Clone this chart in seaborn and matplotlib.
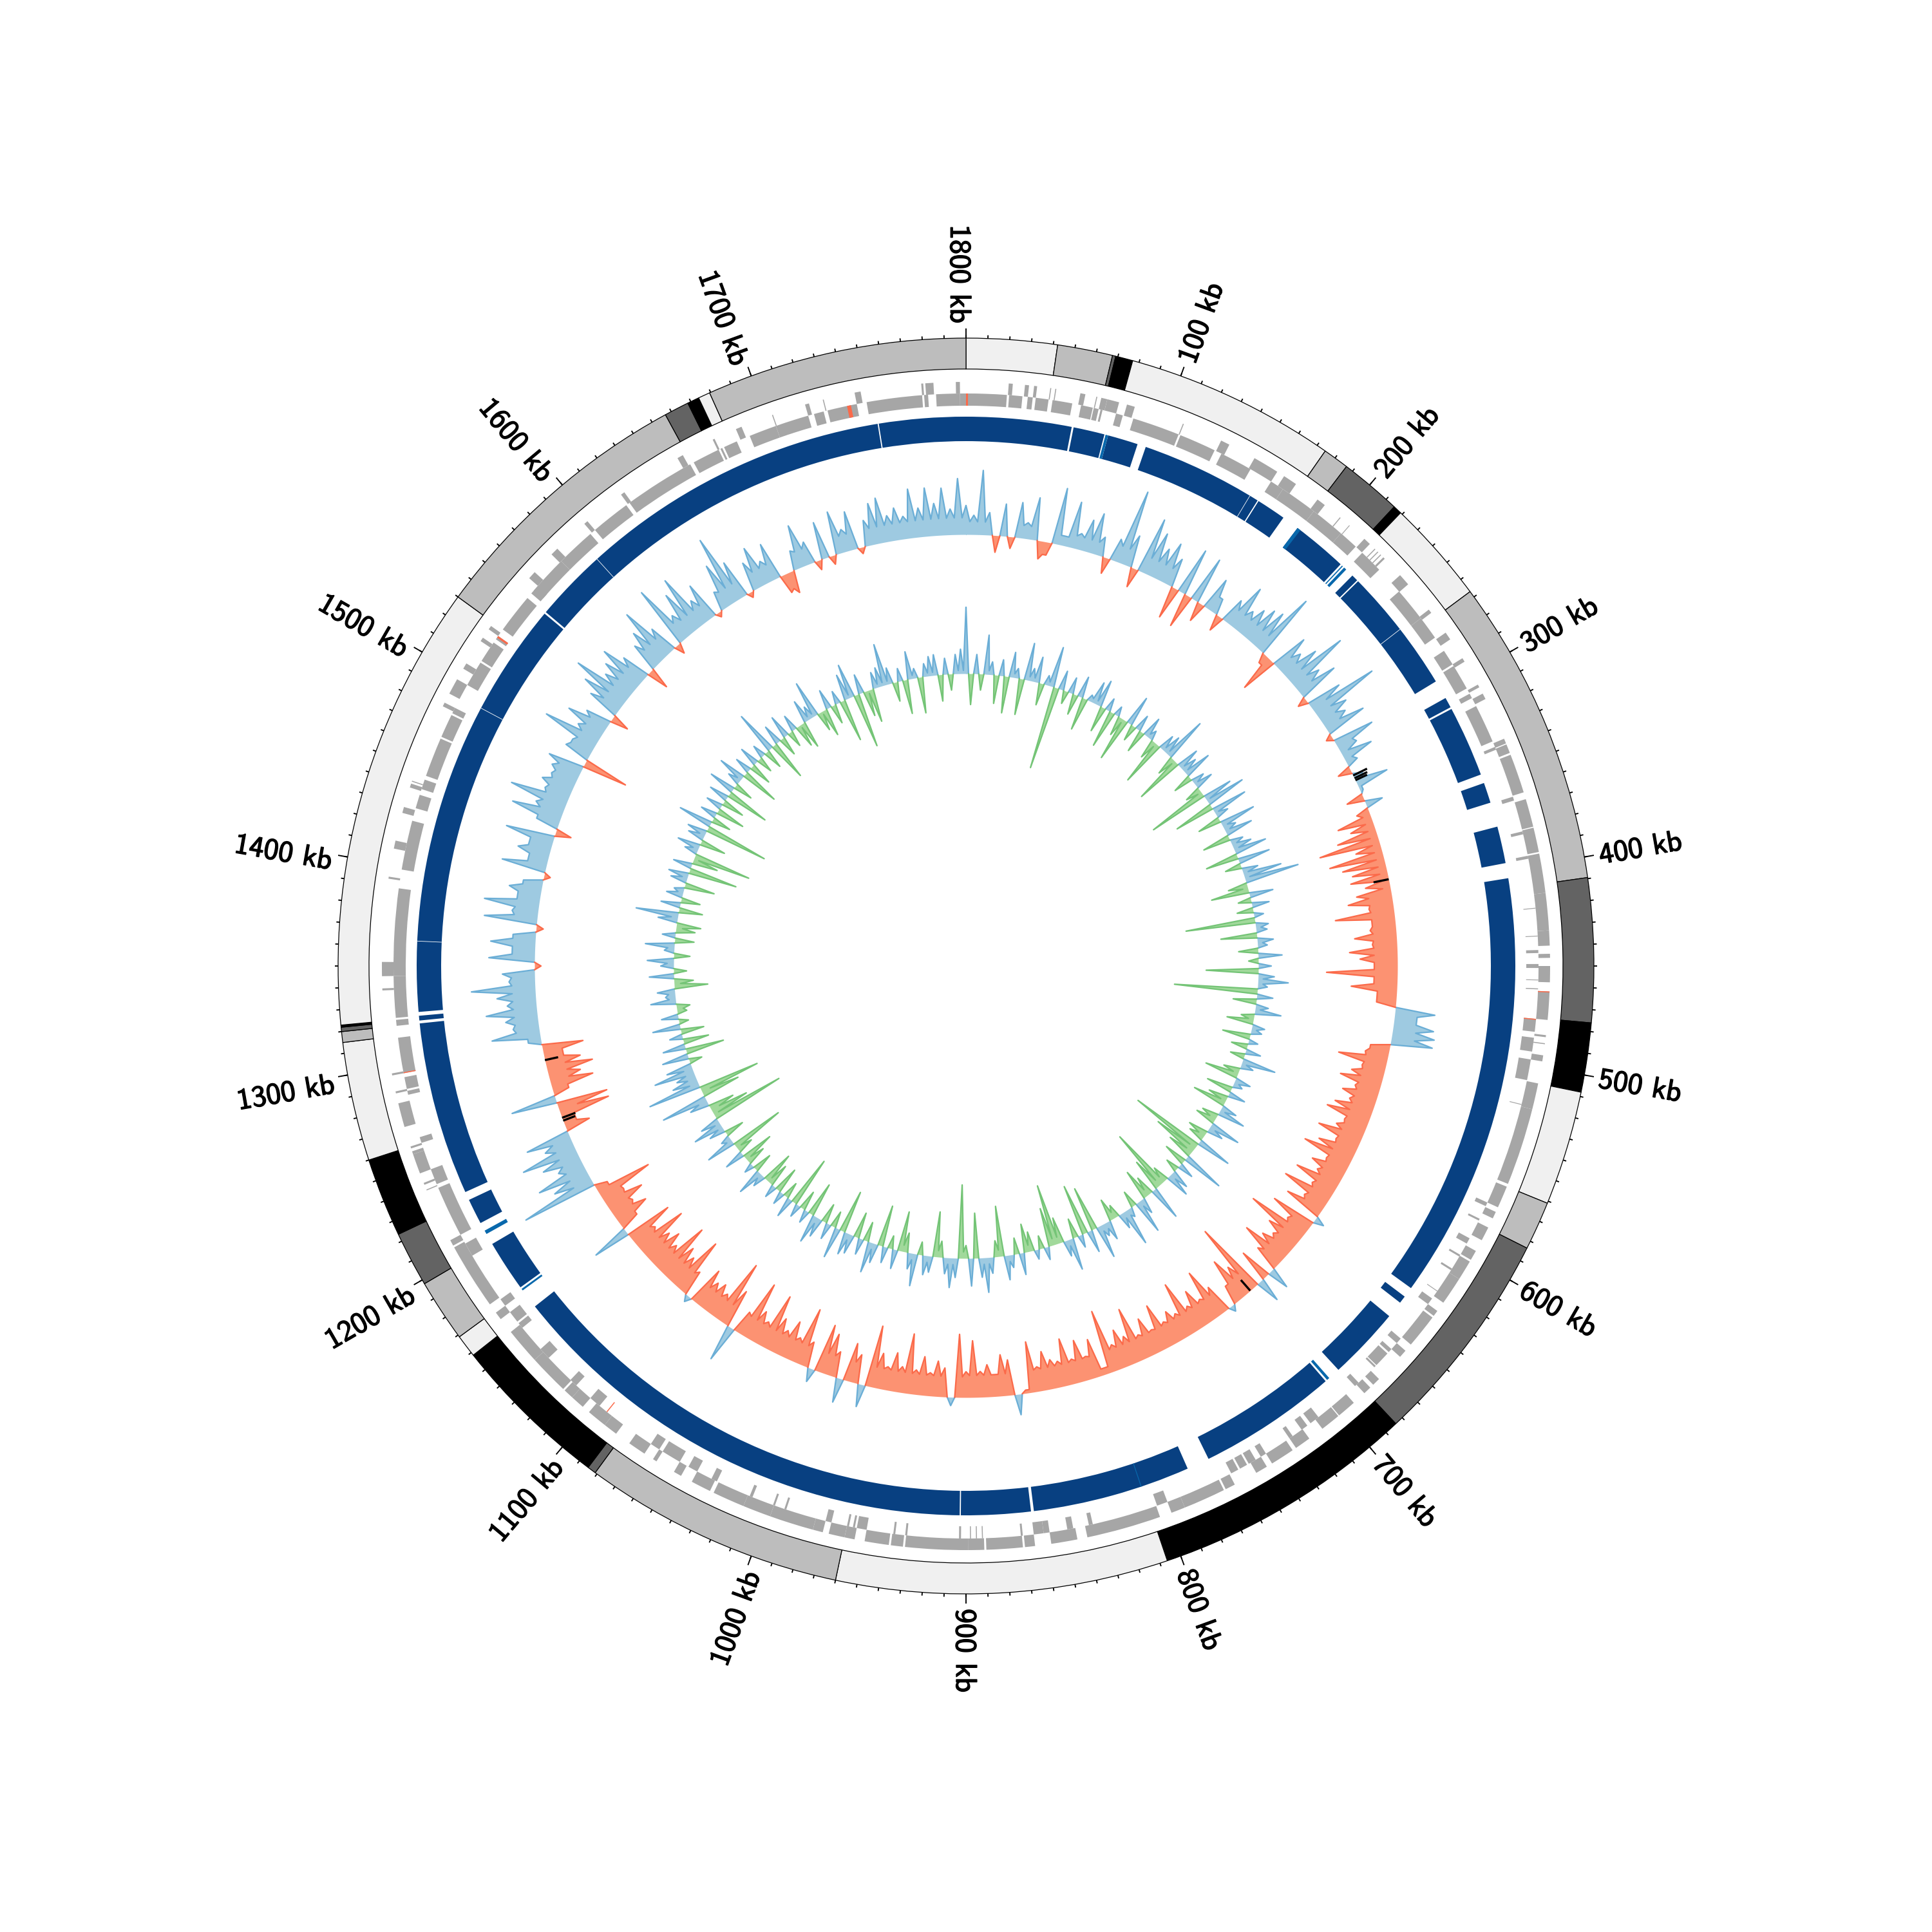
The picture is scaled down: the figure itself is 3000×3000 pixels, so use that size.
import numpy as np
import pandas as pd
import matplotlib
matplotlib.use("Agg")
import matplotlib.pyplot as plt
import matplotlib.patheffects as pe
import seaborn as sns

GENOME_KB = 1800
SAMPLE_KB = 5

BAND_ENDS = [42, 67.5, 69, 77, 174.5, 186.5, 215, 219, 267, 409.5, 476, 508, 561, 583.5, 684, 806.5,
             960, 1081, 1085, 1158.5, 1169, 1198, 1223.5, 1260, 1315, 1320, 1322, 1323, 1530, 1657,
             1668.5, 1674, 1679.5, 1800]
BAND_SHADES = ["#f0f0f0", "#bdbdbd", "#636363", "#000000", "#f0f0f0", "#bdbdbd", "#636363", "#000000", "#f0f0f0",
               "#bdbdbd", "#636363", "#000000", "#f0f0f0", "#bdbdbd", "#636363", "#000000", "#f0f0f0", "#bdbdbd",
               "#636363", "#000000", "#f0f0f0", "#bdbdbd", "#636363", "#000000", "#f0f0f0", "#bdbdbd", "#636363",
               "#000000", "#f0f0f0", "#bdbdbd", "#636363", "#000000", "#f0f0f0", "#bdbdbd"]

GENES_OUTER = [(21,23),(29,31),(33.5,35),(41.5,42),(44,44.5),(56.5,59),(64.5,65),(67,70),(70,76),(80,84),(109,109.5),
    (129.5,130.3),(130,134),(148,161),(165,172),(185,189.5),(199,199.5),(205,205.4),(215,218.7),(222,222.5),(224,224.5),
    (226,226.5),(228,229),(240,246),(262,264),(276,280),(291,293),(306,307.5),(311,314),(335.5,338),(338.5,343),(344,363.5),
    (367,381),(381.5,393.7),(394.5,414),(414,432.5),(432.5,440),(444,446),(450,458),(462.5,476.5),(484,485),(488,488.5),
    (494,497),(508,521),(521,559.5),(561,572),(574.5,578),(583,590),(596,601),(602,612),(612,626),(631,634),(635,652),
    (656,660),(675,679),(681,685),(692,701.5),(702,712),(720,728),(730,742),(745,751),(763,768),(769,790),(790,797),
    (803,840),(845,858),(866,871),(872,890),(891,899),(899,930),(931,937),(938,950),(955,960),(960,968),(971,976),(976,998),
    (998,1012),(1012,1028),(1030,1040),(1046,1050),(1060,1062),(1067,1076),(1084,1091),(1091,1101),(1105,1112),(1112,1117),
    (1118,1138),(1138,1156),(1164,1168),(1173,1206),(1207,1210),(1237,1237.5),(1240,1241),(1246,1256),(1256,1257.5),
    (1259,1260),(1270,1282),(1287,1288),(1296,1297),(1338,1339),(1345,1352),(1393,1394),(1408,1412),(1426,1429),(1439,1441),
    (1442,1442.5),(1482,1484),(1489,1497),(1503,1506),(1519,1521),(1526,1528),(1558,1562),(1574,1578),(1596,1598),
    (1619,1621),(1652,1655),(1671.5,1672.5),(1684,1687),(1703,1703.5),(1720,1722),(1729,1729.5),(1745,1748),(1778,1779),
    (1780,1784),(1795,1797)]
GENES_INNER = [(0,20.5),(21.6,28.3),(31,33.5),(35,41.5),(43.5,53.5),(58,64),(64.5,67),(68,69),(76,79.5),(85,109),(110,128.7),
    (132.5,149),(161,168),(168,187),(187,204.5),(204.5,214.5),(219,231),(245.7,263),(263,275),(283,291),(292,305),(308,310.5),
    (315,334.5),(337.5,339),(364,366),(382,383.5),(394.5,396),(420.8,421.2),(434.8,435.2),(442,443.5),(449,451),(456.8,457.2),
    (461.2,461.7),(476.5,483),(486,493),(497,507.5),(519.8,520.2),(572,574),(581,582),(592,595),(601.5,602.5),(609.5,610.5),
    (622.8,623.2),(627.5,631),(653,656),(660,662),(663,671),(671.5,672.5),(683.5,686),(710,715),(717,720.5),(726,728),
    (742,745),(748,752),(753,757),(758,762),(797,802.5),(836,838),(846,849),(858,861),(861,866),(871.5,872.5),(891.5,892),
    (894.5,895),(897.5,898),(902.5,903.5),(929.5,930.5),(935.5,936.5),(950,955),(956,957),(959,960),(968,971),(991.5,992.5),
    (997.5,998.5),(1009.5,1011),(1029,1032),(1040,1045),(1050,1060),(1062,1067),(1099,1105),(1114.5,1118.5),(1134,1140),
    (1154,1157),(1158,1164),(1168,1172),(1198,1205),(1210,1236),(1238,1246),(1260,1263),(1285,1287),(1288,1294),(1296,1314),
    (1320,1323),(1324,1345),(1345,1389),(1398.5,1423.5),(1430,1437),(1440,1445),(1447,1467),(1468,1480),(1481,1484),
    (1497,1510),(1511,1522),(1524,1526),(1530,1550),(1553,1558),(1555,1575),(1575,1595),(1598,1618),(1620,1656),(1658,1672),
    (1673,1674),(1675,1682),(1689,1703),(1703,1720),(1723,1728),(1730,1745),(1750,1778),(1779,1781),(1785,1797),(1797,1800)]
GENES_RED_OUTER = [(462.5,463)]
GENES_RED_INNER = [(0,1),(476.5,477),(1296,1296.5),(1525,1526),(1094,1094.5),(1740,1742)]

BLOCKS = [(0,55.5),(56.5,73),(75,91),(95.5,160.3),(160.9,176.5),(185.6,215),(223.5,227),(227.7,294),(304,309.5),(310.5,348),
    (352.7,363.5),(376.5,396),(404,629.5),(635,639),(648,686.6),(695.5,769),(781,864.5),(866,902.7),(903.3,1158.5),
    (1171,1198),(1210.5,1224),(1228.5,1320),(1321.5,1324),(1326,1549.5),(1550.5,1753.7),(1754.3,1800)]
BLOCKS_LIGHT = [(73.6,75),(185.6,187.5),(216,216.6),(217.5,219),(693,694.5),(1169,1170),(1204,1206)]
BLOCK_NICKS_WHITE = [155.6, 261, 1363, 1490, 1589]
BLOCK_NICKS_LIGHT = [807]

# signed peak per 5 kb sample
SKEW = [45,30,100,35,-26,50,-18,55,25,66,-28,-20,88,15,72,25,50,64,30,-25,
    35,118,50,-30,88,70,50,65,45,-50,74,-53,73,-30,52,25,-25,40,72,38,
    50,60,65,104,-15,-58,59,40,60,100,45,65,-15,55,109,50,40,65,-10,65,
    30,49,18,-21,15,51,5,-27,27,-20,-55,-38,-63,-95,-40,-85,-67,-54,-59,-38,
    -54,-69,-38,-92,-36,-40,-65,-38,-74,-58,-36,-110,-36,-71,-30,-30,62,35,63,66,
    65,-30,-36,-76,-36,-50,-65,-38,-55,-40,-60,-69,-36,-45,-70,-36,-60,-79,-36,-55,
    -40,-70,-36,-78,-36,-60,16,-70,-36,-96,-55,-38,-50,-74,-40,34,-50,38,-115,-50,
    -70,-30,10,-45,-80,-38,-60,-40,-86,-40,-50,-38,-72,-36,-60,-38,-86,-45,-60,-40,
    -99,-10,-60,-36,-65,-38,-73,-40,-45,-60,-38,-79,-5,32,-55,-64,-34,-50,-40,-88,
    -40,-98,13,-45,-55,-36,-60,-38,-93,-40,-60,-36,-55,-96,35,-45,-60,38,-40,-65,
    -76,21,-40,-90,-38,-60,-40,-55,-88,-38,-50,-92,-36,57,-60,-102,-40,-50,-45,-60,
    10,-40,-89,-50,-60,-90,-45,-60,-50,-84,-40,-74,59,-30,-55,-38,-62,-36,-88,-20,
    119,60,80,40,60,88,45,70,-39,-20,-79,-80,71,-25,-67,-50,-72,-55,-30,-64,
    20,75,40,50,79,45,60,99,40,50,-10,71,35,69,35,-11,82,40,85,35,
    50,30,-10,69,30,50,35,76,-25,35,79,45,91,40,50,40,45,56,-71,40,
    35,90,40,65,40,-28,50,70,94,50,60,74,45,-34,45,60,88,45,-16,98,
    40,70,89,40,59,-8,30,70,109,60,-9,45,64,35,58,-30,-35,30,67,35,
    -15,58,-14,67,35,60,-10,40,64,70,40,50,35,76,45,75,50,73,40,87]
# valley level between peaks, one reading per 100 kb sector
SKEW_FLOOR = [20,26,26,12,36,34,32,34,34,32,32,34,30,36,36,30,26,26]

GC = [103,-48,30,-25,61,20,-44,25,-57,39,15,-56,58,20,40,-34,15,63,-130,30,
    -20,25,-32,33,-51,10,35,42,-40,20,-58,15,-30,-68,47,-25,25,-35,32,15,
    -30,-71,25,30,69,-30,-75,35,25,44,-30,20,29,-25,-94,46,63,-63,56,20,
    -36,56,20,43,-43,20,30,51,-51,50,-25,25,60,85,-30,-59,37,-20,27,-25,
    15,-108,20,17,-56,25,15,-30,37,-15,20,-81,25,47,15,-129,25,-36,20,41,
    -20,-41,20,17,-43,15,-25,24,-22,53,20,-25,-52,25,15,-40,27,-30,-52,25,
    43,-25,-31,49,25,-30,-24,55,-115,-70,-40,66,-35,25,-20,30,38,-25,-97,-50,
    53,-30,-47,25,53,-25,15,58,25,-20,-34,30,20,52,-69,35,-79,20,-30,50,
    25,-40,-95,-60,20,-20,15,-30,-44,34,-25,20,38,-78,-25,25,54,30,-70,43,
    -20,-114,30,46,25,-25,-70,25,30,-20,50,25,-30,-62,30,-20,25,-64,30,48,
    -30,25,-40,30,35,-66,48,-25,25,-30,30,44,-53,20,-30,20,-79,31,-25,20,
    -40,20,-35,-50,20,41,-30,15,-30,-50,31,-25,-84,46,15,-30,25,47,30,-115,
    -60,-40,30,73,-60,-96,83,40,30,63,40,-20,41,-60,35,-40,20,-36,43,-15,
    26,-15,-21,39,15,27,-52,-30,38,-20,20,41,-25,15,45,-30,20,-30,-38,30,
    66,-37,30,-30,25,15,-47,25,31,-76,29,-40,-90,20,35,-40,25,30,-99,53,
    -30,25,-45,25,-35,30,-68,41,-30,20,42,-59,25,-35,30,-25,20,-30,67,-62,
    30,-30,35,-25,25,-35,-42,35,20,57,-30,-43,30,-30,20,-66,40,53,-85,30,
    -40,-52,25,30,65,25,-30,20,-53,43,15,-56,20,30,32,-41,25,-25,30,38]
GC_FLOOR = [6,6,6,8,8,8,10,10,10,10,10,8,14,10,8,6,5,5]

BLACK_KB = [319, 321, 322.5, 392, 694, 1245, 1247, 1287]
BLACK_VALUE = [24, 22, 20, -24, -22, -20, -22, -21]

TICK_KB = list(range(100, 1900, 100))
TICK_LABELS = [f"{k} kb" for k in TICK_KB]

assert len(SKEW) == 360 and len(GC) == 360

sns.set_style("white")
plt.rcParams["font.family"] = ["cmss10", "DejaVu Sans"]
plt.rcParams["axes.unicode_minus"] = False

BLUE_FILL, BLUE_LINE = "#9ecae1", "#6baed6"
RED_FILL, RED_LINE = "#fc9272", "#fb6a4a"
GREEN_FILL, GREEN_LINE = "#a1d99b", "#74c476"
NAVY, NAVY_LIGHT = "#084081", "#0868ac"
GENE = "#a6a6a6"

fig = plt.figure(figsize=(10, 10), dpi=300)
ax = fig.add_axes([0, 0, 1, 1], projection="polar")
ax.set_theta_zero_location("N")
ax.set_theta_direction(-1)


def th(kb):
    return np.deg2rad(np.asarray(kb, dtype=float) * 360.0 / GENOME_KB)


def arcs(pairs, r0, r1, color, **kw):
    a = np.array(pairs, dtype=float)
    ax.bar(th((a[:, 0] + a[:, 1]) / 2), r1 - r0, width=th(a[:, 1] - a[:, 0]), bottom=r0,
           color=color, align="center", **kw)


def with_valleys(peaks, floors):
    out_kb, out_v = [], []
    n = len(peaks)
    for i, a in enumerate(peaks):
        b = peaks[(i + 1) % n]
        f = floors[i * SAMPLE_KB // 100]
        out_kb += [i * SAMPLE_KB, (i + 0.5) * SAMPLE_KB]
        if a * b <= 0:
            out_v += [a, 0]
        else:
            out_v += [a, np.sign(a) * min(f, abs(a), abs(b))]
    out_kb.append(GENOME_KB)
    out_v.append(peaks[0])
    return np.array(out_kb, dtype=float), np.array(out_v, dtype=float)


def side(kb, vals, base, sign, fill, line):
    v = np.maximum(sign * vals, 0.0)
    r = base + sign * v
    ax.fill_between(th(kb), base, r, color=fill, lw=0, zorder=2)
    pos = v > 0
    keep = pos | np.r_[pos[1:], False] | np.r_[False, pos[:-1]]
    seg = np.cumsum(~keep)
    df = pd.DataFrame({"t": th(kb), "r": r, "seg": seg})[keep]
    sns.lineplot(data=df, x="t", y="r", units="seg", estimator=None, sort=False, color=line,
                 lw=0.55, legend=False, ax=ax, zorder=3)


kb_a, skew = with_valleys(SKEW, SKEW_FLOOR)
kb_b, gc = with_valleys(GC, GC_FLOOR)
side(kb_a, skew, 670, 1, BLUE_FILL, BLUE_LINE)
side(kb_a, skew, 670, -1, RED_FILL, RED_LINE)
side(kb_b, gc, 454, 1, BLUE_FILL, BLUE_LINE)
side(kb_b, gc, 454, -1, GREEN_FILL, GREEN_LINE)
ax.vlines(th(BLACK_KB), 670, 670 + np.array(BLACK_VALUE), color="k", lw=0.8, zorder=4)

arcs(BLOCKS, 815, 853, NAVY, lw=0)
arcs(BLOCKS_LIGHT, 815, 853, NAVY_LIGHT, lw=0)
ax.vlines(th(BLOCK_NICKS_WHITE), 815, 853, color="white", lw=0.2, zorder=3)
ax.vlines(th(BLOCK_NICKS_LIGHT), 815, 853, color=NAVY_LIGHT, lw=0.3, zorder=3)
arcs(GENES_OUTER, 889, 907, GENE, lw=0)
arcs(GENES_INNER, 870, 889, GENE, lw=0)
arcs(GENES_RED_OUTER, 889, 907, RED_LINE, lw=0)
arcs(GENES_RED_INNER, 870, 889, RED_LINE, lw=0)

starts = [0] + BAND_ENDS[:-1]
for s, e, c in zip(starts, BAND_ENDS, BAND_SHADES):
    arcs([(s, e)], 927, 975, c, edgecolor="k", lw=0.3)

minor = np.arange(0, GENOME_KB, 10)
ax.vlines(th(minor), 975, 980, color="k", lw=0.45, zorder=4)
ax.vlines(th(TICK_KB), 975, 990, color="k", lw=0.45, zorder=4)

for k, lab in zip(TICK_KB, TICK_LABELS):
    deg = k * 360.0 / GENOME_KB
    if deg <= 180:
        rot, ha, shift = 90 - deg, "left", 0.2
    else:
        rot, ha, shift = 270 - deg, "right", -0.7
    t = ax.text(np.deg2rad(deg + shift), 998, lab, rotation=rot, rotation_mode="anchor", ha=ha, va="center",
                fontsize=11, color="k")
    t.set_path_effects([pe.withStroke(linewidth=0.35, foreground="k")])

ax.set_ylim(0, 1500)
ax.set_axis_off()
fig.savefig("out.png", dpi=300, facecolor="white")
